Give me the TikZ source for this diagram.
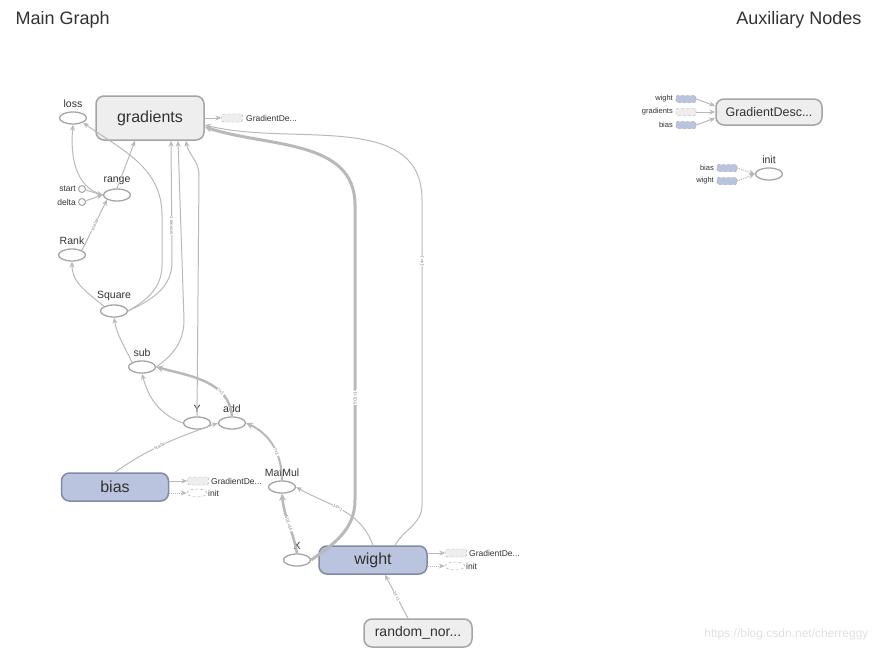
\documentclass[tikz,border=0pt]{standalone}
\usepackage{fontspec}
\setmainfont{Liberation Sans}
\definecolor{edgegray}{RGB}{185, 185, 185}
\definecolor{nodegray}{RGB}{165, 165, 165}
\definecolor{opfill}{RGB}{238, 238, 238}
\definecolor{varblue}{RGB}{186, 196, 222}
\definecolor{varborder}{RGB}{128, 138, 165}
\definecolor{txtgray}{RGB}{50, 50, 50}
\usetikzlibrary{shapes, arrows.meta, positioning, calc}

\begin{document}
\begin{tikzpicture}[x=1pt, y=1pt,
  metanode/.style={draw=nodegray, fill=opfill, rounded corners=8pt, line width=1.5pt, minimum width=108pt, minimum height=44pt, inner sep=0pt, font=\fontsize{16}{16}\selectfont, text=txtgray},
  varnode/.style={metanode, draw=varborder, fill=varblue, minimum height=28pt},
  opnode/.style={draw=nodegray, ellipse, line width=1.3pt, minimum width=27pt, minimum height=12pt, inner sep=0pt, label distance=-1pt},
  oplabel/.style={font=\fontsize{10.5}{10.5}\selectfont, text=txtgray},
  smalltxt/.style={font=\fontsize{8.5}{8.5}\selectfont, text=txtgray, inner sep=1pt},
  gradstub/.style={draw=nodegray, densely dashed, fill=opfill, rounded corners=2pt, minimum width=21pt, minimum height=8pt, inner sep=0pt},
  varstub/.style={gradstub, draw=varborder, fill=varblue},
  initstub/.style={draw=nodegray, densely dashed, ellipse, minimum width=20pt, minimum height=8pt, inner sep=0pt},
  conn/.style={draw=edgegray, line width=1pt, -{Stealth[length=6pt, width=5pt]}},
  thickconn/.style={conn, line width=3pt, -{Stealth[length=7pt, width=7pt]}},
  ctrlconn/.style={conn, densely dotted},
  edgelabel/.style={font=\fontsize{4.5}{4.5}\selectfont, text=gray, fill=white, inner sep=0.4pt}
]
  \useasboundingbox (0,0) rectangle (881,-653);

  % Titles
  \node[anchor=west, font=\fontsize{18}{18}\selectfont, text=txtgray] (maintitle) at (12,-20) {Main Graph};
  \node[anchor=east, font=\fontsize{18}{18}\selectfont, text=txtgray] (auxtitle) at (865,-20) {Auxiliary Nodes};

  % Main graph nodes
  \node[metanode] (gradients) at (150,-118) {gradients};
  \node[gradstub] (gradgd) at (232,-118) {};
  \node[smalltxt, anchor=west] (gradgdtxt) at (245,-118) {GradientDe...};

  \node[opnode, label={[oplabel]above:loss}] (loss) at (73,-118) {};
  \node[opnode, label={[oplabel]above:range}] (range) at (117,-195) {};
  \node[draw=nodegray, circle, line width=1pt, minimum size=7pt, inner sep=0pt] (start) at (82,-189) {};
  \node[smalltxt, anchor=east] (starttxt) at (77,-189) {start};
  \node[draw=nodegray, circle, line width=1pt, minimum size=7pt, inner sep=0pt] (delta) at (82,-202) {};
  \node[smalltxt, anchor=east] (deltatxt) at (77,-202) {delta};
  \node[opnode, label={[oplabel]above:Rank}] (Rank) at (72,-255) {};
  \node[opnode, label={[oplabel]above:Square}] (Square) at (114,-311) {};
  \node[opnode, label={[oplabel]above:sub}] (sub) at (142,-367) {};
  \node[opnode, label={[oplabel]above:Y}] (Y) at (197,-423) {};
  \node[opnode, label={[oplabel]above:add}] (add) at (232,-423) {};
  \node[opnode, label={[oplabel]above:MatMul}] (MatMul) at (282,-487) {};
  \node[opnode, label={[oplabel]above:X}] (X) at (297,-560) {};

  \node[varnode, minimum width=107pt] (bias) at (115,-487) {bias};
  \node[gradstub] (biasgd) at (198,-481) {};
  \node[smalltxt, anchor=west] (biasgdtxt) at (210,-481) {GradientDe...};
  \node[initstub] (biasinit) at (197,-493) {};
  \node[smalltxt, anchor=west] (biasinittxt) at (207,-493) {init};

  \node[varnode] (wight) at (373,-560) {wight};
  \node[gradstub] (wightgd) at (456,-553) {};
  \node[smalltxt, anchor=west] (wightgdtxt) at (468,-553) {GradientDe...};
  \node[initstub] (wightinit) at (455,-566) {};
  \node[smalltxt, anchor=west] (wightinittxt) at (465,-566) {init};

  \node[metanode, minimum height=28pt, font=\fontsize{14}{14}\selectfont] (randomnor) at (418,-633) {random\_nor...};

  % Main graph edges
  \draw[conn] (gradients.east) -- (gradgd.west);
  \draw[conn] (start) -- (range.west);
  \draw[conn] (delta) -- (range.west);
  \draw[conn] (range.west) to[out=165, in=-95] (loss.south);
  \draw[conn] (range.north) -- ([xshift=-15pt]gradients.south);
  \draw[conn] (Rank.north east) -- node[sloped, edgelabel] {scalar} (range.south west);
  \draw[conn] (Square.north west) to[out=140, in=-90] (Rank.south);
  \draw[conn] (Square.east) to[out=30, in=-90] (162,-265) -- (162,-215) to[out=90, in=-35] (loss.south east);
  \draw[conn] (Square.east) to[out=25, in=-90] (172,-262) -- node[pos=0.3, edgelabel, rotate=-90] {2 tensors} ([xshift=21pt]gradients.south);
  \draw[conn] (sub.east) to[out=35, in=-90] (184,-320) -- ([xshift=28pt]gradients.south);
  \draw[conn] (Y.north) -- (199,-175) to[out=90, in=-80] ([xshift=36pt]gradients.south);
  \draw[conn] (sub.north west) to[out=115, in=-80] (Square.south);
  \draw[conn] (Y.west) to[out=160, in=-75] (sub.south);
  \draw[thickconn, line width=2.5pt] (add.north) to[out=95, in=-15] node[pos=0.3, sloped, edgelabel] {?×1} (sub.east);
  \draw[conn] (bias.north) to[out=35, in=-160] node[pos=0.45, sloped, edgelabel] {scalar} (add.west);
  \draw[thickconn, line width=2pt] (MatMul.north) to[out=90, in=-25] node[pos=0.4, sloped, edgelabel] {?×1} (add.east);
  \draw[thickconn, line width=2.5pt] (X.north) to[out=100, in=-85] node[midway, sloped, edgelabel] {501×14} (MatMul.south);
  \draw[conn] (wight.north) to[out=110, in=-30] node[pos=0.55, sloped, edgelabel] {14×1} (MatMul.east);
  \draw[thickconn] (X.east) to[out=35, in=-90] (355,-500) -- node[pos=0.35, sloped, edgelabel] {501×14} (355,-205)
    to[out=90, in=-18] ([yshift=-9pt]gradients.east);
  \draw[conn] ([xshift=22pt]wight.north) to[out=60, in=-90] (422,-505) -- node[pos=0.8, sloped, edgelabel] {14×1} (422,-200)
    to[out=90, in=-14] ([yshift=-7pt]gradients.east);
  \draw[conn] ([xshift=-10pt]randomnor.north) -- node[sloped, edgelabel] {14×1} ([xshift=12pt]wight.south);
  \draw[conn] ([yshift=6pt]bias.east) -- (biasgd.west);
  \draw[ctrlconn] ([yshift=-6pt]bias.east) -- (biasinit.west);
  \draw[conn] ([yshift=7pt]wight.east) -- (wightgd.west);
  \draw[ctrlconn] ([yshift=-6pt]wight.east) -- (wightinit.west);

  % Auxiliary nodes
  \node[metanode, minimum width=106pt, minimum height=26pt, font=\fontsize{12.5}{12.5}\selectfont] (gdesc) at (769,-112) {GradientDesc...};
  \node[varstub, minimum width=20pt, minimum height=7pt] (auxwight) at (686,-99) {};
  \node[smalltxt, anchor=east, font=\fontsize{7.5}{7.5}\selectfont] (auxwighttxt) at (674,-99) {wight};
  \node[gradstub, minimum width=20pt, minimum height=7pt] (auxgrad) at (686,-112) {};
  \node[smalltxt, anchor=east, font=\fontsize{7.5}{7.5}\selectfont] (auxgradtxt) at (674,-112) {gradients};
  \node[varstub, minimum width=20pt, minimum height=7pt] (auxbias) at (686,-125) {};
  \node[smalltxt, anchor=east, font=\fontsize{7.5}{7.5}\selectfont] (auxbiastxt) at (674,-125) {bias};
  \draw[conn] (auxwight.east) -- ([yshift=6pt]gdesc.west);
  \draw[conn] (auxgrad.east) -- (gdesc.west);
  \draw[conn] (auxbias.east) -- ([yshift=-6pt]gdesc.west);

  \node[opnode, label={[oplabel]above:init}] (auxinit) at (769,-174) {};
  \node[varstub, minimum width=20pt, minimum height=7pt] (initbias) at (727,-168) {};
  \node[smalltxt, anchor=east, font=\fontsize{7.5}{7.5}\selectfont] (initbiastxt) at (715,-168) {bias};
  \node[varstub, minimum width=20pt, minimum height=7pt] (initwight) at (727,-181) {};
  \node[smalltxt, anchor=east, font=\fontsize{7.5}{7.5}\selectfont] (initwighttxt) at (715,-181) {wight};
  \draw[ctrlconn] (initbias.east) -- (auxinit.west);
  \draw[ctrlconn] (initwight.east) -- (auxinit.west);

  \node[anchor=east, font=\fontsize{12}{12}\selectfont, text=black!12] (watermark) at (872,-634) {https://blog.csdn.net/cherreggy};
\end{tikzpicture}
\end{document}
